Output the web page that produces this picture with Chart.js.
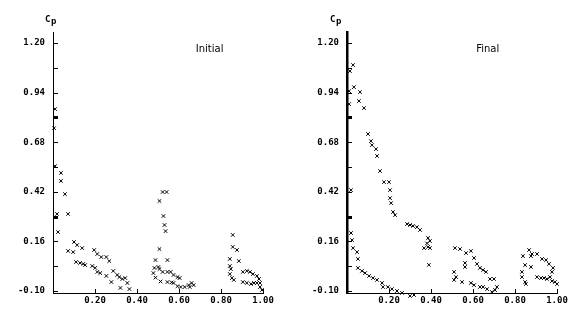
<!DOCTYPE html>
<html>
<head>
<meta charset="utf-8">
<script src="https://cdn.jsdelivr.net/npm/chart.js@4.4.0/dist/chart.umd.min.js"></script>
<style>
  body { margin: 0; background: #fff; }
  #wrap { position: relative; width: 588px; height: 310px; }
  canvas { position: absolute; top: 0; }
</style>
</head>
<body>
<div id="wrap">
  <canvas id="left" width="294" height="310" style="left:0"></canvas>
  <canvas id="right" width="294" height="310" style="left:294px"></canvas>
</div>
<script>
// chord position x/c and pressure coefficient Cp
const initialX = [0.010, 0.005, 0.010, 0.038, 0.038, 0.057, 0.019, 0.072, 0.024, 0.100,
  0.115, 0.139, 0.072, 0.096, 0.196, 0.211, 0.230, 0.254, 0.268, 0.110,
  0.129, 0.144, 0.153, 0.187, 0.201, 0.211, 0.225, 0.254, 0.278, 0.287,
  0.306, 0.316, 0.330, 0.344, 0.354, 0.321, 0.364,
  0.522, 0.541, 0.507, 0.526, 0.531, 0.536, 0.507, 0.488, 0.545, 0.483,
  0.502, 0.507, 0.478, 0.488, 0.512, 0.522, 0.545, 0.560, 0.574, 0.593,
  0.603, 0.545, 0.565, 0.574, 0.593, 0.608, 0.627, 0.646, 0.660, 0.670, 0.651,
  0.856, 0.856, 0.876, 0.842, 0.885, 0.842, 0.847, 0.842, 0.852, 0.861,
  0.904, 0.923, 0.938, 0.952, 0.971, 0.981, 0.904, 0.923, 0.943, 0.957,
  0.971, 0.986, 0.986, 0.995];
const initialCp = [0.854, 0.754, 0.555, 0.519, 0.477, 0.408, 0.304, 0.304, 0.209, 0.157,
  0.141, 0.125, 0.110, 0.104, 0.115, 0.094, 0.078, 0.078, 0.057, 0.052,
  0.047, 0.042, 0.036, 0.031, 0.021, 0.000, -0.006, -0.021, -0.053, 0.005,
  -0.016, -0.027, -0.037, -0.032, -0.058, -0.084, -0.090,
  0.419, 0.419, 0.372, 0.293, 0.246, 0.214, 0.120, 0.062, 0.062, 0.021,
  0.026, 0.015, -0.006, -0.030, -0.050, 0.000, 0.000, 0.000, -0.016, -0.027,
  -0.032, -0.053, -0.055, -0.058, -0.075, -0.079, -0.079, -0.069, -0.058, -0.069, -0.079,
  0.194, 0.131, 0.115, 0.068, 0.057, 0.031, 0.015, -0.011, -0.032, -0.042,
  0.000, 0.005, 0.000, -0.011, -0.021, -0.037, -0.053, -0.058, -0.063, -0.058,
  -0.058, -0.058, -0.079, -0.095];

const finalX = [0.029, 0.014, 0.033, 0.010, 0.062, 0.010, 0.057, 0.081, 0.100, 0.114,
  0.119, 0.138, 0.143, 0.157, 0.176, 0.200, 0.205, 0.019, 0.205, 0.210,
  0.219, 0.229, 0.286, 0.300, 0.314, 0.333, 0.348, 0.386, 0.395, 0.386,
  0.367, 0.395, 0.381, 0.390,
  0.019, 0.024, 0.029, 0.048, 0.052, 0.052, 0.071, 0.086, 0.105, 0.124,
  0.143, 0.167, 0.171, 0.195, 0.214, 0.238, 0.262, 0.300, 0.319,
  0.514, 0.538, 0.567, 0.590, 0.605, 0.562, 0.562, 0.619, 0.633, 0.648,
  0.662, 0.510, 0.519, 0.510, 0.548, 0.590, 0.605, 0.633, 0.648, 0.667,
  0.690, 0.705, 0.714, 0.681, 0.700,
  0.867, 0.881, 0.905, 0.838, 0.876, 0.929, 0.948, 0.962, 0.848, 0.876,
  0.976, 0.981, 0.833, 0.833, 0.848, 0.852, 0.905, 0.924, 0.938, 0.952,
  0.967, 0.976, 0.990, 1.000];
const finalCp = [1.085, 1.053, 0.969, 0.948, 0.943, 0.880, 0.896, 0.859, 0.723, 0.686,
  0.665, 0.644, 0.608, 0.529, 0.471, 0.471, 0.429, 0.429, 0.387, 0.361,
  0.314, 0.298, 0.251, 0.246, 0.241, 0.235, 0.220, 0.178, 0.162, 0.131,
  0.125, 0.125, 0.150, 0.037,
  0.204, 0.167, 0.125, 0.104, 0.068, 0.021, 0.005, -0.006, -0.021, -0.032,
  -0.042, -0.058, -0.079, -0.079, -0.090, -0.100, -0.110, -0.126, -0.121,
  0.125, 0.120, 0.099, 0.110, 0.073, 0.047, 0.026, 0.042, 0.021, 0.010,
  0.000, 0.000, -0.027, -0.042, -0.053, -0.058, -0.069, -0.079, -0.079, -0.090,
  -0.105, -0.095, -0.079, -0.037, -0.037,
  0.115, 0.094, 0.094, 0.083, 0.083, 0.068, 0.062, 0.042, 0.036, 0.026,
  0.000, 0.021, 0.000, -0.027, -0.053, -0.063, -0.027, -0.032, -0.032, -0.037,
  -0.027, -0.048, -0.053, -0.063];

const yTicks = [-0.10, 0.03, 0.16, 0.29, 0.42, 0.55, 0.68, 0.81, 0.94, 1.07, 1.20];
const yLabels = ['-0.10', '', '0.16', '', '0.42', '', '0.68', '', '0.94', '', '1.20'];
const boldTicks = [0.29, 0.81];
const xTicks = [0.20, 0.40, 0.60, 0.80, 1.00];
const xLabels = ['0.20', '0.40', '0.60', '0.80', '1.00'];

const tickFont = { family: 'DejaVu Sans Mono', size: 9, weight: 'bold' };

// ticks point inward, plus the Cp label and panel name
const decor = {
  id: 'decor',
  afterDraw(chart, args, opts) {
    const { ctx, chartArea } = chart;
    const xs = chart.scales.x, ys = chart.scales.y;
    ctx.save();
    ctx.strokeStyle = '#000';
    yTicks.forEach(v => {
      const py = Math.round(ys.getPixelForValue(v)) + 0.5;
      ctx.lineWidth = boldTicks.includes(v) ? 3 : 1;
      ctx.beginPath();
      ctx.moveTo(chartArea.left, py);
      ctx.lineTo(chartArea.left + 5, py);
      ctx.stroke();
    });
    ctx.lineWidth = 1;
    xTicks.forEach(v => {
      const px = Math.round(xs.getPixelForValue(v)) + 0.5;
      ctx.beginPath();
      ctx.moveTo(px, chartArea.bottom);
      ctx.lineTo(px, chartArea.bottom - 4);
      ctx.stroke();
    });
    ctx.fillStyle = '#000';
    ctx.font = 'bold 9px "DejaVu Sans Mono"';
    ctx.textAlign = 'left';
    ctx.textBaseline = 'alphabetic';
    ctx.fillText('C', opts.cpX, 22);
    ctx.fillText('p', opts.cpX + 6, 24);
    ctx.font = '10px "DejaVu Sans"';
    ctx.fillText(opts.name, xs.getPixelForValue(opts.nameAt), 52);
    ctx.restore();
  }
};

function makePanel(id, xv, yv, name, nameAt, cpX, axisWidth) {
  const points = xv.map((x, i) => ({ x: x, y: yv[i] }));
  return new Chart(document.getElementById(id), {
    type: 'scatter',
    data: {
      datasets: [{
        data: points,
        pointStyle: 'crossRot',
        pointRadius: 2.5,
        borderColor: '#000',
        borderWidth: 1,
        clip: false
      }]
    },
    options: {
      responsive: false,
      animation: false,
      layout: { padding: { top: 32, right: 31, left: 0, bottom: 0 } },
      scales: {
        x: {
          type: 'linear',
          min: 0,
          max: 1,
          afterBuildTicks: s => { s.ticks = xTicks.map(v => ({ value: v })); },
          afterFit: s => { s.height = 17; },
          grid: { display: false, drawTicks: false },
          border: { display: true, color: '#000', width: 1 },
          ticks: {
            callback: (v, i) => xLabels[i],
            color: '#000',
            font: tickFont,
            padding: 2,
            maxRotation: 0,
            autoSkip: false
          }
        },
        y: {
          min: -0.1105,
          max: 1.258,
          afterBuildTicks: s => { s.ticks = yTicks.map(v => ({ value: v })); },
          afterFit: s => { s.width = 53; },
          grid: { display: false, drawTicks: false },
          border: { display: true, color: '#000', width: axisWidth },
          ticks: {
            callback: (v, i) => yLabels[i],
            color: '#000',
            font: tickFont,
            padding: 8,
            autoSkip: false
          }
        }
      },
      plugins: {
        legend: { display: false },
        tooltip: { enabled: false },
        decor: { name: name, nameAt: nameAt, cpX: cpX }
      }
    },
    plugins: [decor]
  });
}

makePanel('left', initialX, initialCp, 'Initial', 0.68, 45, 1);
makePanel('right', finalX, finalCp, 'Final', 0.615, 36, 2.5);
</script>
</body>
</html>
